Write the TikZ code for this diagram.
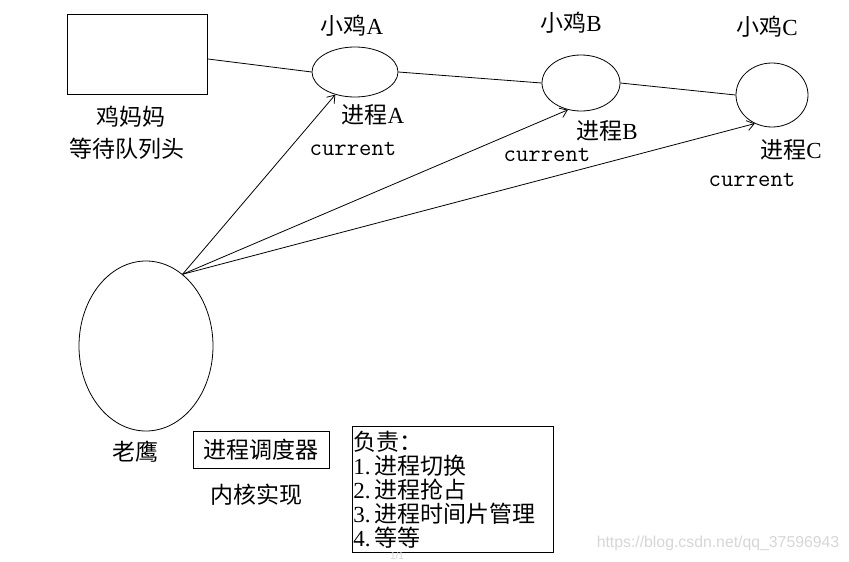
\documentclass[tikz,border=0pt]{standalone}
\usepackage{fontspec}
\setmainfont{Noto Sans CJK SC}
\newfontfamily\latinserif{Liberation Serif}
\newfontfamily\markfont{Liberation Sans}
\usetikzlibrary{arrows.meta,shapes.geometric}
\newcommand{\ltr}[1]{{\latinserif #1}}

\begin{document}
\begin{tikzpicture}[x=1pt,y=-1pt,
  txt/.style={font=\fontsize{23}{24}\selectfont,inner sep=0pt},
  curlbl/.style={font=\ttfamily\fontsize{24}{25}\selectfont,inner sep=0pt},
  chick/.style={draw,ellipse,inner sep=0pt,line width=0.8pt},
  link/.style={line width=0.8pt},
  arrow/.style={-{Straight Barb[length=7pt,width=10pt]},line width=0.8pt},
  faint/.style={text=gray!32,inner sep=0pt}
]
\useasboundingbox (0,0) rectangle (849,562);

% queue head and the chicks
\node[draw,line width=0.8pt,minimum width=140,minimum height=80] (hen) at (137,54) {};
\node[chick,minimum width=86,minimum height=50] (chickA) at (355,72) {};
\node[chick,minimum width=78,minimum height=56] (chickB) at (581,83) {};
\node[chick,minimum width=72,minimum height=64] (chickC) at (772,95) {};
\node[chick,minimum width=134,minimum height=170] (eagle) at (146,346) {};

\node[txt] (henname) at (131,117) {鸡妈妈};
\node[txt] (henrole) at (127,149) {等待队列头};
\node[txt] (nameA) at (352,26) {小鸡\ltr{A}};
\node[txt] (nameB) at (571,23) {小鸡\ltr{B}};
\node[txt] (nameC) at (767,27) {小鸡\ltr{C}};
\node[txt] (procA) at (373,115) {进程\ltr{A}};
\node[txt] (procB) at (607,131) {进程\ltr{B}};
\node[txt] (procC) at (791,150) {进程\ltr{C}};
\node[curlbl] (curA) at (353,149) {current};
\node[curlbl] (curB) at (547,155) {current};
\node[curlbl] (curC) at (752,180) {current};

% scheduler
\node[txt] (eaglename) at (135,452) {老鹰};
\node[draw,txt,line width=0.8pt,minimum width=136,minimum height=37] (sched) at (261,449.5) {进程调度器};
\node[txt] (kernel) at (256,495) {内核实现};
\node[draw,txt,line width=0.8pt,align=left,anchor=north west,minimum width=201,
  minimum height=126,inner sep=0.5pt,text width=199] (duty) at (352,426)
  {负责：\\\ltr{1.}\hspace{4pt}进程切换\\\ltr{2.}\hspace{4pt}进程抢占\\\ltr{3.}\hspace{4pt}进程时间片管理\\\ltr{4.}\hspace{4pt}等等};

\node[faint,font=\markfont\fontsize{15.8}{16}\selectfont] (mark) at (718,543) {https://blog.csdn.net/qq\_37596943};
\node[faint,font=\markfont\fontsize{10}{11}\selectfont] (page) at (397,556) {1/1};

\draw[link] (hen.-4) -- (chickA.west);
\draw[link] (chickA.east) -- (chickB.west);
\draw[link] (chickB.east) -- (chickC.west);
\draw[arrow] (eagle.63) -- (chickA.-131);
\draw[arrow] (eagle.63) -- (chickB.-116);
\draw[arrow] (eagle.63) -- (chickC.-121);
\end{tikzpicture}
\end{document}
